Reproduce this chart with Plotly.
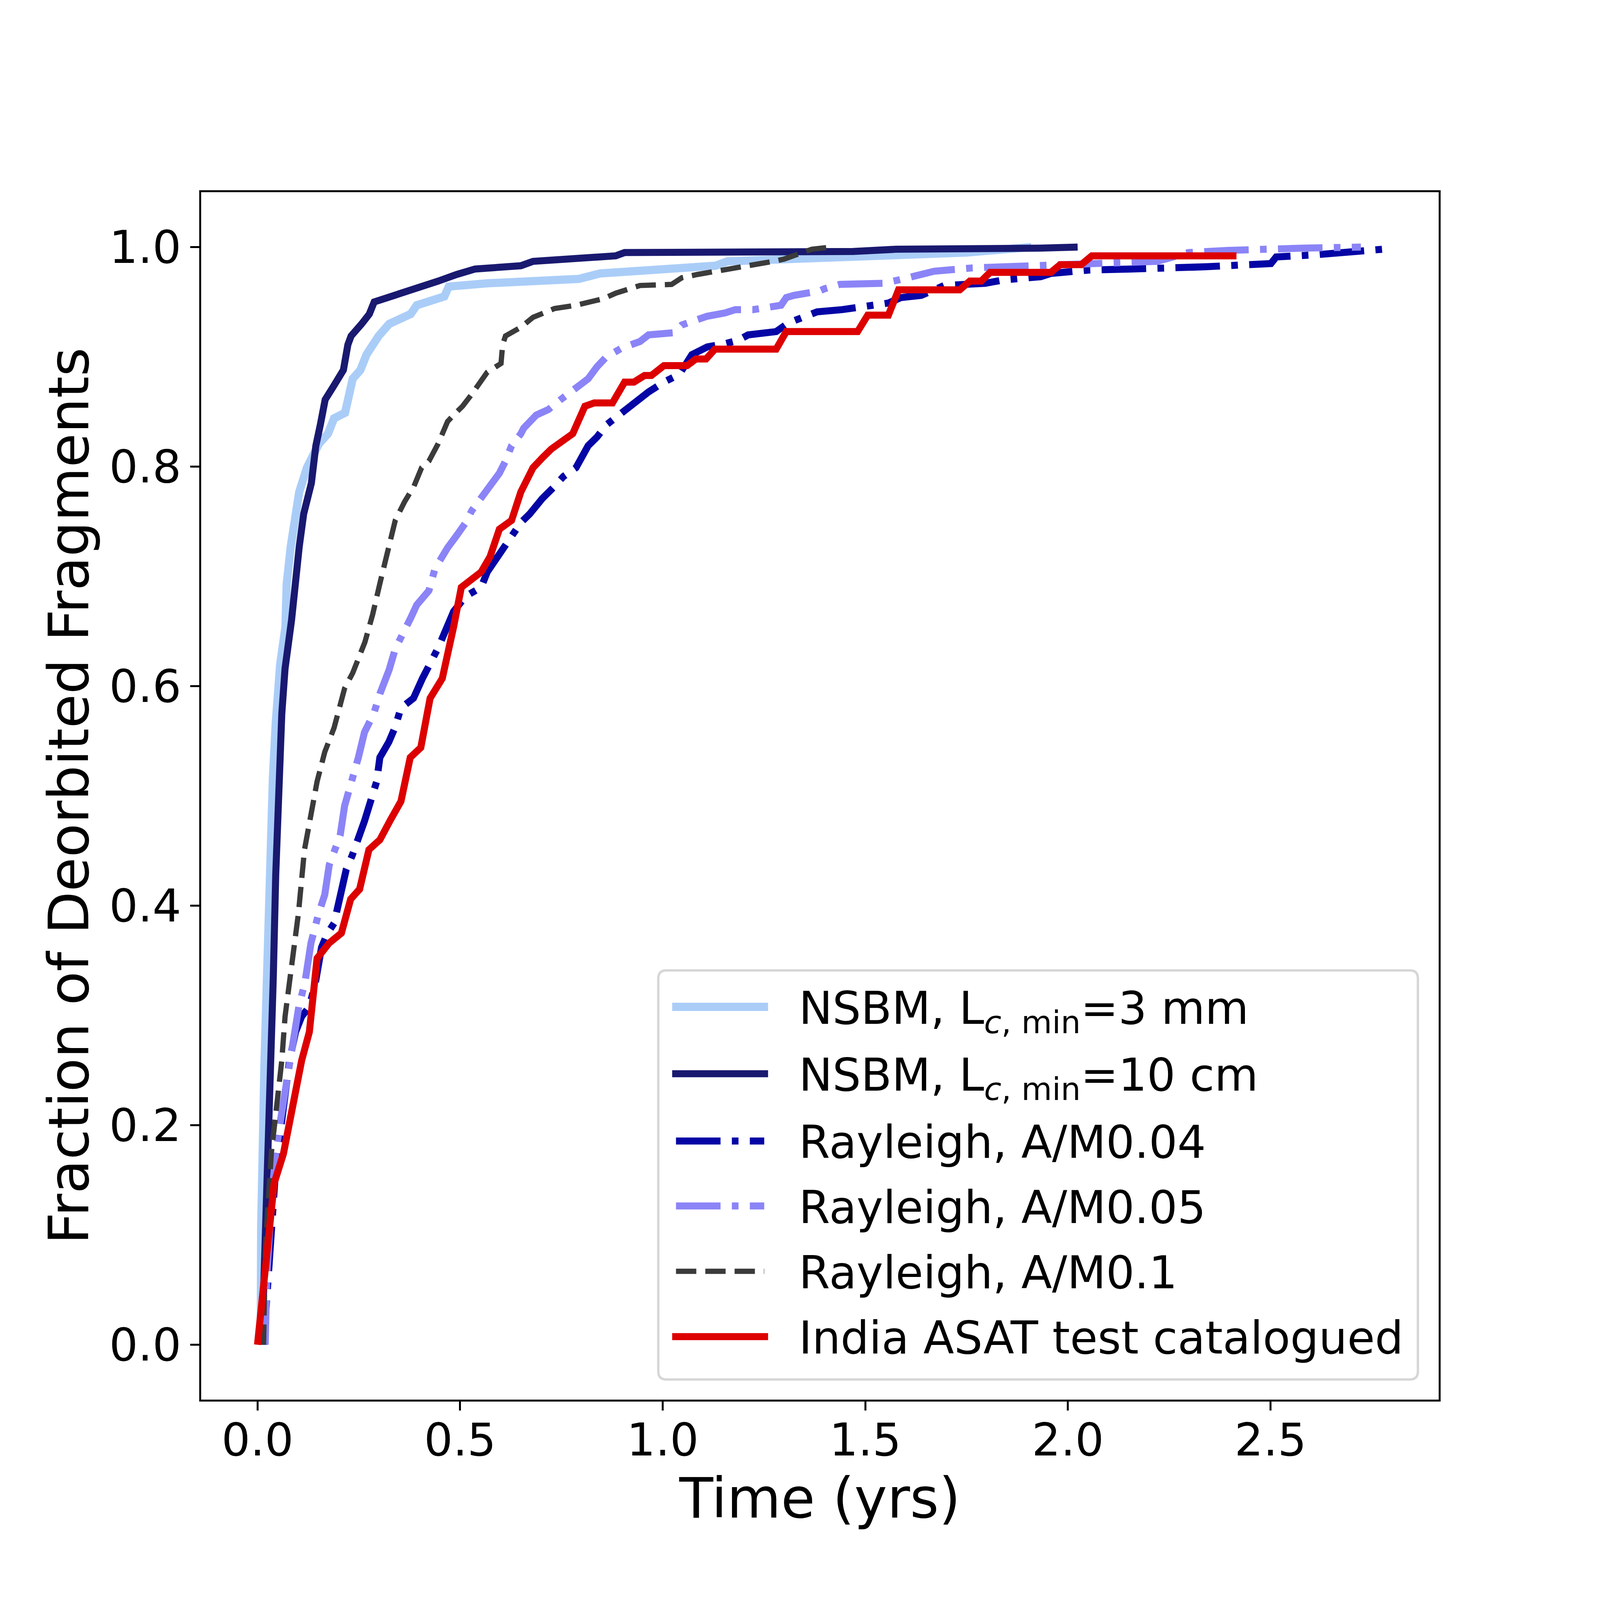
"""
Cumulative fraction of deorbited fragments vs time (NSBM / Rayleigh models vs India ASAT catalogue).
"""
import plotly.graph_objects as go

# NSBM, Lc,min = 3 mm
nsbm3mm_t = [0.008, 0.009, 0.017, 0.023, 0.029, 0.038, 0.045, 0.056, 0.069, 0.072,
             0.082, 0.091, 0.103, 0.122, 0.152, 0.174, 0.189, 0.216, 0.227, 0.235,
             0.254, 0.269, 0.299, 0.314, 0.325, 0.378, 0.393, 0.461, 0.472, 0.567,
             0.793, 0.846, 1.0, 1.13, 1.16, 1.5, 1.75, 1.91]
nsbm3mm_f = [0.0, 0.107, 0.254, 0.335, 0.455, 0.517, 0.566, 0.620, 0.654, 0.693,
             0.727, 0.754, 0.777, 0.799, 0.821, 0.830, 0.844, 0.849, 0.869, 0.880,
             0.888, 0.902, 0.919, 0.925, 0.930, 0.939, 0.947, 0.955, 0.964, 0.967,
             0.971, 0.976, 0.980, 0.983, 0.987, 0.991, 0.995, 1.0]

# NSBM, Lc,min = 10 cm
nsbm10cm_t = [0.011, 0.019, 0.026, 0.034, 0.039, 0.045, 0.053, 0.060, 0.068, 0.084,
              0.103, 0.114, 0.133, 0.144, 0.155, 0.167, 0.189, 0.212, 0.223, 0.231,
              0.257, 0.276, 0.288, 0.333, 0.378, 0.446, 0.491, 0.537, 0.650, 0.680,
              0.884, 0.906, 1.47, 1.575, 1.93, 2.024]
nsbm10cm_f = [0.0, 0.085, 0.196, 0.285, 0.335, 0.428, 0.517, 0.575, 0.616, 0.660,
              0.727, 0.757, 0.785, 0.819, 0.838, 0.861, 0.874, 0.888, 0.911, 0.919,
              0.930, 0.939, 0.950, 0.955, 0.961, 0.969, 0.975, 0.980, 0.983, 0.987,
              0.992, 0.995, 0.996, 0.998, 0.999, 1.0]

# Rayleigh, A/M 0.04
ray004_t = [0.015, 0.023, 0.030, 0.038, 0.045, 0.057, 0.068, 0.079, 0.094, 0.109,
            0.128, 0.143, 0.158, 0.173, 0.189, 0.204, 0.219, 0.234, 0.249, 0.264,
            0.279, 0.294, 0.302, 0.324, 0.339, 0.354, 0.385, 0.407, 0.446, 0.469,
            0.484, 0.514, 0.552, 0.567, 0.597, 0.627, 0.650, 0.672, 0.703, 0.733,
            0.755, 0.786, 0.801, 0.816, 0.838, 0.861, 0.899, 0.929, 0.965, 1.003,
            1.041, 1.072, 1.110, 1.154, 1.186, 1.211, 1.280, 1.311, 1.349, 1.381,
            1.443, 1.513, 1.557, 1.588, 1.638, 1.695, 1.764, 1.796, 1.840, 1.933,
            1.958, 2.050, 2.154, 2.285, 2.337, 2.501, 2.514, 2.612, 2.697, 2.776]
ray004_f = [0.0, 0.049, 0.085, 0.125, 0.161, 0.196, 0.232, 0.259, 0.285, 0.299,
            0.308, 0.330, 0.362, 0.375, 0.384, 0.406, 0.433, 0.446, 0.460, 0.477,
            0.495, 0.513, 0.535, 0.549, 0.562, 0.580, 0.589, 0.607, 0.635, 0.654,
            0.668, 0.682, 0.690, 0.704, 0.721, 0.737, 0.749, 0.757, 0.771, 0.782,
            0.791, 0.799, 0.808, 0.819, 0.827, 0.838, 0.849, 0.858, 0.868, 0.877,
            0.884, 0.902, 0.909, 0.912, 0.915, 0.920, 0.923, 0.931, 0.936, 0.941,
            0.943, 0.947, 0.949, 0.954, 0.956, 0.965, 0.966, 0.967, 0.970, 0.973,
            0.976, 0.979, 0.980, 0.981, 0.982, 0.985, 0.991, 0.993, 0.995, 0.998]

# Rayleigh, A/M 0.05
ray005_t = [0.019, 0.023, 0.034, 0.045, 0.057, 0.068, 0.079, 0.090, 0.102, 0.117,
            0.132, 0.151, 0.166, 0.177, 0.204, 0.215, 0.234, 0.249, 0.264, 0.287,
            0.302, 0.325, 0.340, 0.363, 0.378, 0.393, 0.423, 0.438, 0.454, 0.469,
            0.491, 0.514, 0.529, 0.552, 0.574, 0.597, 0.612, 0.627, 0.650, 0.657,
            0.688, 0.718, 0.748, 0.778, 0.816, 0.838, 0.861, 0.899, 0.944, 0.965,
            1.028, 1.047, 1.091, 1.110, 1.154, 1.179, 1.223, 1.292, 1.305, 1.324,
            1.387, 1.399, 1.437, 1.544, 1.582, 1.594, 1.670, 1.764, 1.859, 1.978,
            2.220, 2.298, 2.396, 2.579, 2.723]
ray005_f = [0.0, 0.062, 0.129, 0.174, 0.205, 0.232, 0.259, 0.285, 0.308, 0.330,
            0.366, 0.393, 0.410, 0.437, 0.464, 0.491, 0.513, 0.535, 0.558, 0.575,
            0.593, 0.615, 0.634, 0.649, 0.662, 0.674, 0.687, 0.707, 0.718, 0.726,
            0.737, 0.749, 0.760, 0.771, 0.782, 0.794, 0.805, 0.819, 0.830, 0.835,
            0.847, 0.852, 0.861, 0.869, 0.880, 0.891, 0.900, 0.908, 0.914, 0.920,
            0.922, 0.929, 0.934, 0.937, 0.940, 0.943, 0.943, 0.947, 0.954, 0.956,
            0.960, 0.962, 0.966, 0.967, 0.970, 0.971, 0.978, 0.981, 0.982, 0.983,
            0.987, 0.995, 0.997, 0.999, 1.0]

# Rayleigh, A/M 0.1
ray01_t = [0.015, 0.019, 0.034, 0.045, 0.060, 0.068, 0.079, 0.094, 0.101, 0.116,
           0.132, 0.147, 0.166, 0.189, 0.215, 0.235, 0.265, 0.284, 0.303, 0.325,
           0.340, 0.363, 0.386, 0.405, 0.423, 0.446, 0.469, 0.484, 0.506, 0.529,
           0.548, 0.567, 0.601, 0.605, 0.612, 0.650, 0.680, 0.733, 0.786, 0.854,
           0.884, 0.914, 0.944, 1.022, 1.047, 1.085, 1.154, 1.223, 1.273, 1.299,
           1.336, 1.368, 1.415]
ray01_f = [0.0, 0.085, 0.174, 0.210, 0.259, 0.299, 0.330, 0.366, 0.393, 0.451,
           0.482, 0.513, 0.540, 0.562, 0.598, 0.612, 0.640, 0.665, 0.695, 0.726,
           0.751, 0.768, 0.782, 0.799, 0.805, 0.821, 0.841, 0.847, 0.855, 0.866,
           0.877, 0.886, 0.894, 0.911, 0.919, 0.927, 0.936, 0.944, 0.947, 0.953,
           0.958, 0.962, 0.965, 0.966, 0.972, 0.975, 0.979, 0.983, 0.987, 0.989,
           0.994, 0.998, 1.0]

# India ASAT test, catalogued fragments
india_t = [0.0, 0.011, 0.026, 0.041, 0.064, 0.090, 0.109, 0.128, 0.147, 0.177,
           0.207, 0.230, 0.252, 0.275, 0.302, 0.328, 0.354, 0.377, 0.403, 0.426,
           0.456, 0.484, 0.503, 0.552, 0.574, 0.597, 0.627, 0.650, 0.680, 0.703,
           0.725, 0.778, 0.808, 0.831, 0.876, 0.906, 0.929, 0.955, 0.972, 1.003,
           1.060, 1.082, 1.107, 1.129, 1.280, 1.305, 1.481, 1.506, 1.557, 1.582,
           1.733, 1.758, 1.786, 1.808, 1.958, 1.981, 2.033, 2.059, 2.416]
india_f = [0.0, 0.040, 0.085, 0.147, 0.174, 0.223, 0.259, 0.285, 0.352, 0.366,
           0.375, 0.406, 0.415, 0.451, 0.460, 0.478, 0.495, 0.535, 0.544, 0.589,
           0.607, 0.654, 0.690, 0.704, 0.718, 0.743, 0.751, 0.777, 0.799, 0.808,
           0.816, 0.830, 0.855, 0.858, 0.858, 0.877, 0.877, 0.883, 0.883, 0.892,
           0.892, 0.898, 0.898, 0.907, 0.907, 0.923, 0.923, 0.938, 0.938, 0.961,
           0.961, 0.969, 0.969, 0.977, 0.977, 0.984, 0.984, 0.992, 0.992]

x_ticks = [0.0, 0.5, 1.0, 1.5, 2.0, 2.5]
y_ticks = [0.0, 0.2, 0.4, 0.6, 0.8, 1.0]

FONT = "DejaVu Sans"
DASHDOT = "114px,29px,17px,29px"
DASHED = "52px,23px"

# name, x, y, colour, width, dash
series = [
    ("NSBM, L<sub><i>c</i>, min</sub>=3 mm", nsbm3mm_t, nsbm3mm_f, "#aacdf8", 21, "solid"),
    ("NSBM, L<sub><i>c</i>, min</sub>=10 cm", nsbm10cm_t, nsbm10cm_f, "#191970", 18, "solid"),
    ("Rayleigh, A/M0.04", ray004_t, ray004_f, "#0505a5", 18, DASHDOT),
    ("Rayleigh, A/M0.05", ray005_t, ray005_f, "#8b84f7", 18, DASHDOT),
    ("Rayleigh, A/M0.1", ray01_t, ray01_f, "#3b3b3b", 13.5, DASHED),
    ("India ASAT test catalogued", india_t, india_f, "#dd0000", 18, "solid"),
]

fig = go.Figure()

for name, t, f, color, width, dash in series:
    fig.add_trace(go.Scatter(
        x=t,
        y=f,
        mode="lines",
        name=name,
        showlegend=False,
        line=dict(color=color, width=width, dash=dash),
    ))

# hand-made legend box (paper coords), so the sample lines keep their real width
bx0, bx1, by0, by1 = 0.3694, 0.9832, 0.0167, 0.3555
rx, ry = 0.0065, 0.0066
box_path = ("M {a},{t} L {b},{t} Q {r},{t} {r},{c} L {r},{d} Q {r},{bo} {b},{bo} "
            "L {a},{bo} Q {l},{bo} {l},{d} L {l},{c} Q {l},{t} {a},{t} Z").format(
    a=bx0 + rx, b=bx1 - rx, l=bx0, r=bx1, t=by1, bo=by0, c=by1 - ry, d=by0 + ry)
fig.add_shape(type="path", path=box_path, xref="paper", yref="paper",
              line=dict(color="#d6d6d6", width=6), fillcolor="rgba(255,255,255,0.8)")

row_y = [0.3253, 0.2699, 0.2142, 0.1604, 0.1063, 0.0522]
for (name, t, f, color, width, dash), yy in zip(series, row_y):
    if dash == "solid":
        lx0, lx1 = 0.3806, 0.4581
    else:
        lx0, lx1 = 0.3837, 0.4550
    fig.add_shape(type="line", xref="paper", yref="paper",
                  x0=lx0, x1=lx1, y0=yy, y1=yy,
                  line=dict(color=color, width=width, dash=dash))
    fig.add_annotation(x=0.4822, y=yy + 0.0212, xref="paper", yref="paper",
                       xanchor="left", yanchor="top", showarrow=False,
                       text=name, font=dict(family=FONT, size=115, color="black"))

axis_common = dict(
    showgrid=False,
    zeroline=False,
    showline=True,
    linecolor="black",
    linewidth=4.5,
    mirror=True,
    ticks="outside",
    ticklen=23,
    tickwidth=4.5,
    tickcolor="black",
    tickformat=".1f",
    tickfont=dict(family=FONT, size=116, color="black"),
)

# page is captured at ~4096 css px, so the figure is sized to fit it
fig.update_layout(
    width=4080,
    height=4080,
    plot_bgcolor="white",
    paper_bgcolor="white",
    showlegend=False,
    margin=dict(l=507, r=405, t=484, b=505),
    font=dict(family=FONT, color="black"),
    xaxis=dict(
        axis_common,
        range=[-0.139, 2.915],
        tickvals=x_ticks,
        ticklabelstandoff=-24,
        title=dict(text="Time (yrs)", font=dict(family=FONT, size=142), standoff=13),
    ),
    yaxis=dict(
        axis_common,
        range=[-0.05, 1.05],
        tickvals=y_ticks,
        ticklabelstandoff=0,
        title=dict(text="Fraction of Deorbited Fragments", font=dict(family=FONT, size=142), standoff=6),
    ),
)

fig.write_html("out.html")
